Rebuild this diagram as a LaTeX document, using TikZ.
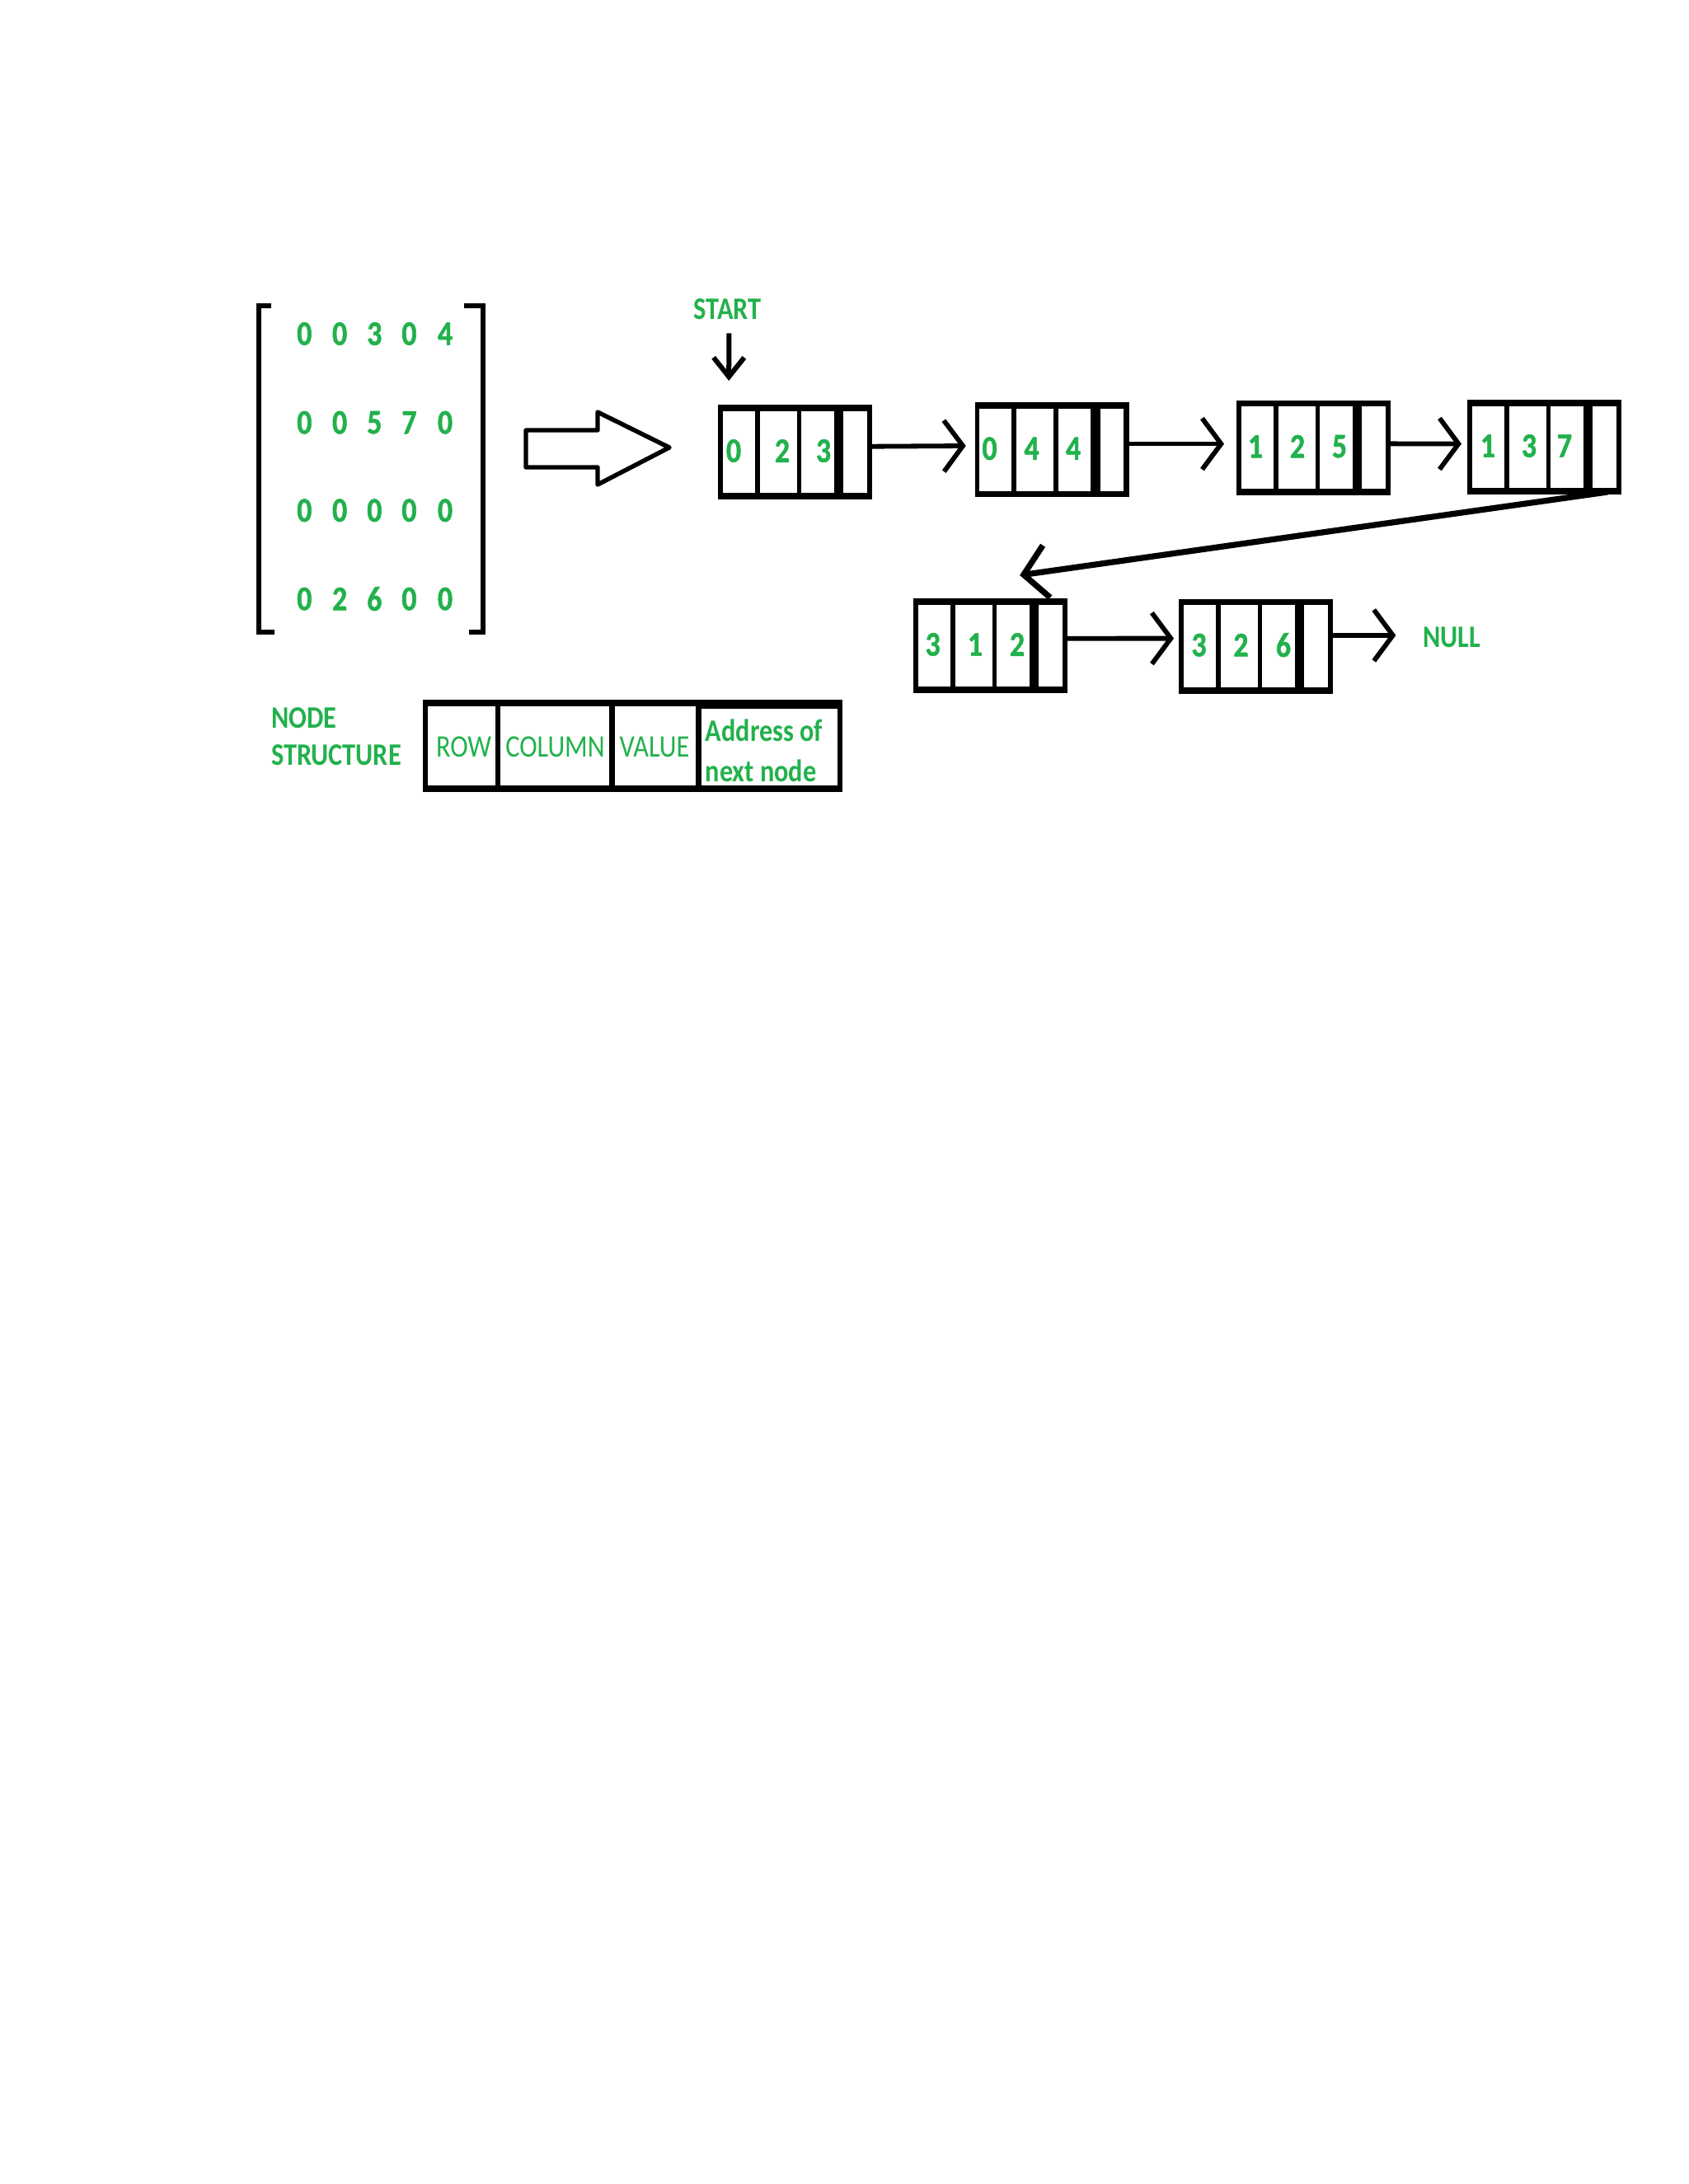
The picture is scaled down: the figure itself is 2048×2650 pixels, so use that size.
\documentclass[tikz,border=0pt]{standalone}
\usepackage{fontspec}
\setmainfont{Carlito}[FakeStretch=0.85]
\newfontfamily\digfont{Carlito}[FakeStretch=0.85, BoldFeatures={FakeBold=1.2}]
\usetikzlibrary{arrows.meta}
\definecolor{pg}{RGB}{34,177,76}
\tikzset{
  lbox/.style={fill=black, inner sep=0pt, outer sep=0pt, minimum width=46.75pt, minimum height=28.75pt, anchor=north west},
  sbox/.style={fill=black, inner sep=0pt, outer sep=0pt, minimum width=127.2pt, minimum height=27.85pt, anchor=north west},
  dig/.style={text=pg, font=\digfont\fontsize{10.5}{12}\selectfont\bfseries, inner sep=0pt},
  lbl/.style={text=pg, font=\fontsize{9.5}{11}\selectfont, inner sep=0pt},
  blbl/.style={text=pg, font=\fontsize{9.5}{11}\selectfont\bfseries, inner sep=0pt},
  lnk/.style={line width=1.45pt, -{Straight Barb[length=5.75pt,width=15.5pt]}},
  brk/.style={line width=1.5pt, line cap=butt, line join=miter},
}
\newcommand\listnode[9]{%
  \node[lbox] (#1) at (#2,#3) {};
  \fill[white] ({#2+5.7},{#3+7.7}) rectangle ({#2+44.7},{#3+107.3});
  \fill[white] ({#2+50.7},{#3+7.7}) rectangle ({#2+95.7},{#3+107.3});
  \fill[white] ({#2+101.3},{#3+7.7}) rectangle ({#2+140.7},{#3+107.3});
  \fill[white] ({#2+152.3},{#3+7.7}) rectangle ({#2+180.7},{#3+107.3});
  \node[dig] (#1-a) at ({#2+#7},{#3+56}) {#4};
  \node[dig] (#1-b) at ({#2+#8},{#3+56}) {#5};
  \node[dig] (#1-c) at ({#2+#9},{#3+56}) {#6};
}
\begin{document}
\begin{tikzpicture}[x=0.25pt, y=-0.25pt]
\fill[white] (0,0) rectangle (2048,2650);

% sparse matrix
\draw[brk] (328.6,371.5) -- (314,371.5) -- (314,767) -- (333,767);
\draw[brk] (563,371.5) -- (585.5,371.5) -- (585.5,767) -- (568.6,767);
\foreach \yy/\a/\b/\c/\d/\e [count=\r] in {405/0/0/3/0/4, 512.7/0/0/5/7/0, 619.3/0/0/0/0/0, 726.7/0/2/6/0/0} {
  \node[dig] (m\r-1) at (369.3,\yy) {\a};
  \node[dig] (m\r-2) at (412.1,\yy) {\b};
  \node[dig] (m\r-3) at (454.3,\yy) {\c};
  \node[dig] (m\r-4) at (496.4,\yy) {\d};
  \node[dig] (m\r-5) at (540,\yy) {\e};
}

% hollow block arrow
\draw[line width=1.35pt, line join=round] (638,522) -- (725,522) -- (725,500) -- (812,543) -- (725,588) -- (725,567) -- (638,567) -- cycle;

% list nodes
\listnode{n1}{871}{491}{0}{2}{3}{19}{78}{128}
\listnode{n2}{1182.5}{488.3}{0}{4}{4}{18}{69}{119.6}
\listnode{n3}{1500}{485.7}{1}{2}{5}{23}{74}{125}
\listnode{n4}{1780}{485}{1}{3}{7}{25}{75}{118}
\listnode{n5}{1108}{726}{3}{1}{2}{23.6}{75}{126}
\listnode{n6}{1430}{726.7}{3}{2}{6}{24.5}{75.4}{127}

\node[blbl] (start) at (882.5,375) {START};
\node[blbl] (null) at (1761,773.3) {NULL};

\draw[line width=1.5pt, -{Straight Barb[length=5.85pt,width=9.3pt]}] ([xshift=0.45pt,yshift=-4pt]start.south) -- ([xshift=3.3pt,yshift=7.25pt]n1.north west);
\draw[lnk] ([yshift=1.7pt]n1.east) -- ([xshift=-2.7pt,yshift=1.2pt]n2.west);
\draw[lnk] ([yshift=1.8pt]n2.east) -- ([xshift=-3.75pt,yshift=1.15pt]n3.west);
\draw[lnk] ([yshift=1.2pt]n3.east) -- ([xshift=-1.75pt,yshift=1.0pt]n4.west);
\draw[line width=1.8pt, -{Straight Barb[length=7pt,width=16pt]}] ([xshift=-4.25pt,yshift=0.75pt]n4.south east) -- ([xshift=8.9pt,yshift=7pt]n5.north);
\draw[lnk] ([yshift=2.2pt]n5.east) -- ([xshift=-1.5pt,yshift=2.4pt]n6.west);
\draw[lnk] ([yshift=3.3pt]n6.east) -- ([xshift=-8pt,yshift=0.6pt]null.west);

% node structure legend
\node[blbl, anchor=west] (nd) at (328.3,871) {NODE};
\node[blbl, anchor=west] (st) at (328.3,916.5) {STRUCTURE};
\node[sbox] (ns) at (513.3,849.3) {};
\fill[white] (519.3,856.6) rectangle (601,953.4);
\fill[white] (607.3,856.6) rectangle (739.3,953.4);
\fill[white] (745.7,856.6) rectangle (844.3,953.4);
\fill[white] (850.7,859.6) rectangle (1016,953.4);
\node[lbl] (row) at (562.5,906.7) {ROW};
\node[lbl] (col) at (673.5,906.7) {COLUMN};
\node[lbl] (val) at (794,906.7) {VALUE};
\node[blbl, anchor=base west] (addr1) at (855,900) {Address of};
\node[blbl, anchor=base west] (addr2) at (855,948.3) {next node};
\end{tikzpicture}
\end{document}
